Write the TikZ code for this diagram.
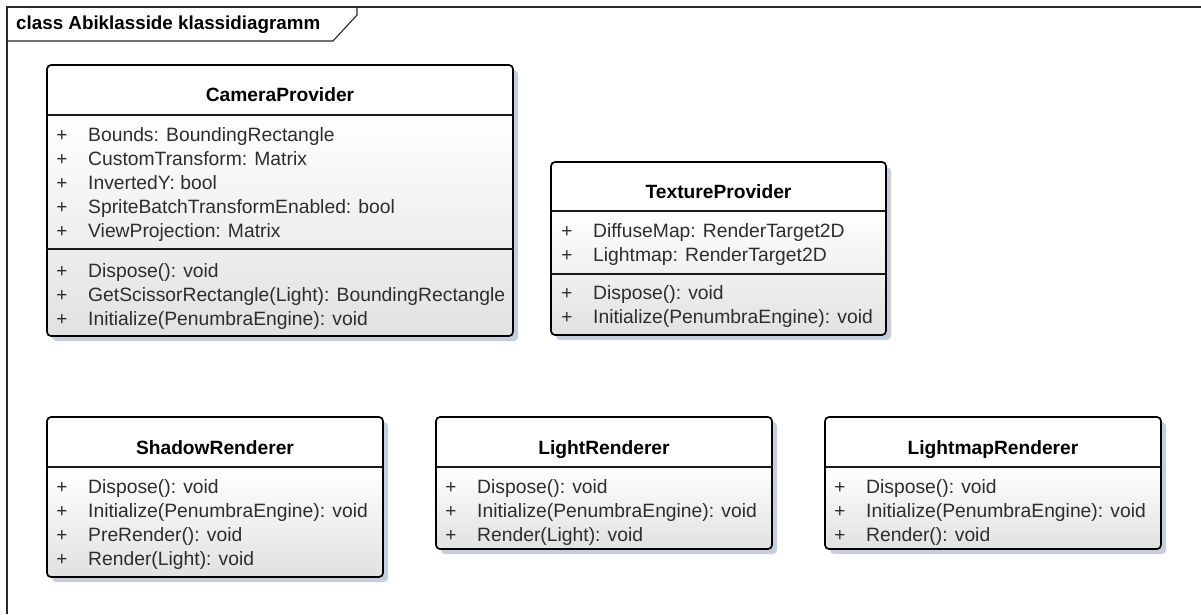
\documentclass[tikz,border=0pt]{standalone}
\usepackage{fontspec}
\setmainfont{Liberation Sans}
\usetikzlibrary{calc}

\definecolor{shadowc}{RGB}{198,205,221}
\definecolor{membertext}{RGB}{45,45,45}
\definecolor{bodybottom}{RGB}{225,225,225}
\definecolor{framec}{RGB}{40,40,40}

\tikzset{
  classbox/.style={inner sep=0pt, outer sep=0pt, anchor=north west},
  classtitle/.style={font=\fontsize{19.2}{21}\selectfont\bfseries, inner sep=0pt, anchor=base},
  member/.style={font=\fontsize{19.3}{21}\selectfont, text=membertext, inner sep=0pt, anchor=base west},
  plus/.style={font=\fontsize{19}{21}\selectfont, text=membertext, inner sep=0pt, anchor=base},
  boxline/.style={line width=1.7pt, black},
  sepline/.style={line width=1.4pt, black!90},
}

% shadow, gradient body, outline and compartment lines of one class box
% #1 box node, #2 y of the header line, #3 y of the extra compartment line (or none)
\newcommand\umlbox[3]{%
  \fill[shadowc, rounded corners=4pt] ([shift={(5,5)}]#1.north west) rectangle ([shift={(5,5)}]#1.south east);
  \fill[white, rounded corners=4pt] (#1.north west) rectangle (#1.south east);
  \begin{scope}
    \clip[rounded corners=4pt] (#1.north west) rectangle (#1.south east);
    \shade[top color=white, bottom color=bodybottom] (#1.west |- 0,#2) rectangle (#1.south east);
  \end{scope}
  \draw[boxline, rounded corners=4pt] (#1.north west) rectangle (#1.south east);
  \draw[sepline] (#1.west |- 0,#2) -- (#1.east |- 0,#2);
  \ifx\relax#3\relax\else
    \draw[sepline] (#1.west |- 0,#3) -- (#1.east |- 0,#3);
  \fi
}

\begin{document}
\begin{tikzpicture}[x=1pt, y=-1pt]
\useasboundingbox (0,0) rectangle (1201,614);

% diagram frame with its name tab
\draw[framec, line width=1.4pt] (7,614) -- (7,7) -- (1201,7);
\draw[framec, line width=1.1pt] (357,7) -- (357,15) -- (333,41) -- (7,41);
\node[classtitle, anchor=base west, font=\fontsize{18.8}{20}\selectfont\bfseries] (frameT) at (16,29) {class Abiklasside klassidiagramm};

% class boxes
\node[classbox, minimum width=466pt, minimum height=271pt] (cam) at (47,65) {};
\node[classbox, minimum width=335pt, minimum height=173pt] (tex) at (551,162) {};
\node[classbox, minimum width=336pt, minimum height=160pt] (shd) at (47,417) {};
\node[classbox, minimum width=336pt, minimum height=132pt] (lgt) at (436,417) {};
\node[classbox, minimum width=336pt, minimum height=132pt] (lmp) at (825,417) {};

\umlbox{cam}{115}{249}
\umlbox{tex}{211}{274}
\umlbox{shd}{467}{}
\umlbox{lgt}{467}{}
\umlbox{lmp}{467}{}

% CameraProvider
\node[classtitle] (camT) at (280,101) {CameraProvider};
\foreach \y/\t [count=\i] in {141/{Bounds: BoundingRectangle},
                              165/{CustomTransform: Matrix},
                              189/{InvertedY: bool},
                              213/{SpriteBatchTransformEnabled: bool},
                              237/{ViewProjection: Matrix},
                              277/{Dispose(): void},
                              301/{GetScissorRectangle(Light): BoundingRectangle},
                              325/{Initialize(PenumbraEngine): void}} {
  \node[plus] (camP\i) at (62,\y) {+};
  \node[member] (camM\i) at (88,\y) {\t};
}

% TextureProvider
\node[classtitle] (texT) at (718.5,198) {TextureProvider};
\foreach \y/\t [count=\i] in {237/{DiffuseMap: RenderTarget2D},
                              261/{Lightmap: RenderTarget2D},
                              299/{Dispose(): void},
                              323/{Initialize(PenumbraEngine): void}} {
  \node[plus] (texP\i) at (567,\y) {+};
  \node[member] (texM\i) at (593,\y) {\t};
}

% ShadowRenderer
\node[classtitle] (shdT) at (215,454) {ShadowRenderer};
\foreach \y/\t [count=\i] in {493/{Dispose(): void},
                              517/{Initialize(PenumbraEngine): void},
                              541/{PreRender(): void},
                              565/{Render(Light): void}} {
  \node[plus] (shdP\i) at (62,\y) {+};
  \node[member] (shdM\i) at (88,\y) {\t};
}

% LightRenderer
\node[classtitle] (lgtT) at (604,454) {LightRenderer};
\foreach \y/\t [count=\i] in {493/{Dispose(): void},
                              517/{Initialize(PenumbraEngine): void},
                              541/{Render(Light): void}} {
  \node[plus] (lgtP\i) at (451,\y) {+};
  \node[member] (lgtM\i) at (477,\y) {\t};
}

% LightmapRenderer
\node[classtitle] (lmpT) at (993,454) {LightmapRenderer};
\foreach \y/\t [count=\i] in {493/{Dispose(): void},
                              517/{Initialize(PenumbraEngine): void},
                              541/{Render(): void}} {
  \node[plus] (lmpP\i) at (840,\y) {+};
  \node[member] (lmpM\i) at (866,\y) {\t};
}
\end{tikzpicture}
\end{document}
